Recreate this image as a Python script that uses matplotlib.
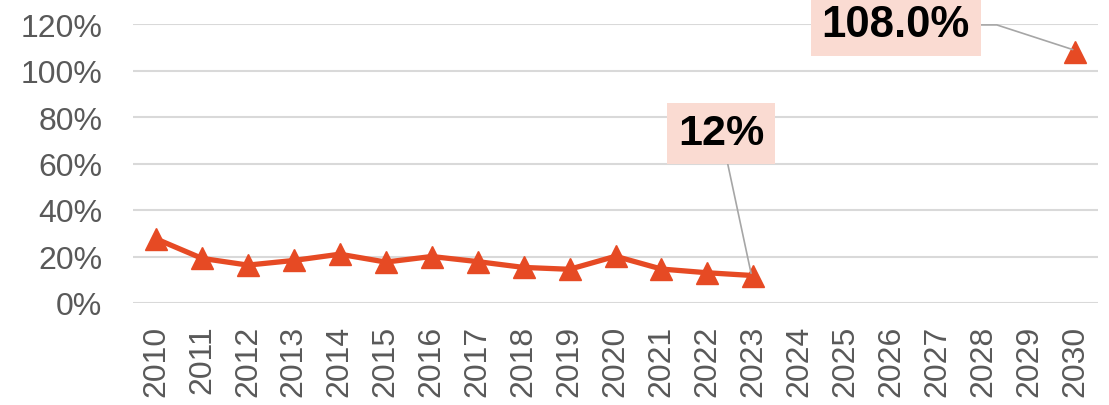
import numpy as np
import matplotlib
matplotlib.use("Agg")
import matplotlib.pyplot as plt

# data
years = [str(y) for y in range(2010, 2031)]
share = [27.6, 19.2, 16.3, 18.3, 21.0, 17.6, 20.0, 17.8, 15.3, 14.5, 20.1, 14.6, 13.0, 11.8,
         np.nan, np.nan, np.nan, np.nan, np.nan, np.nan, 108.0]
y_ticks = [0, 20, 40, 60, 80, 100, 120]
callouts = {"2023": "12%", "2030": "108.0%"}

line_col = "#E64A24"
box_col = "#FADBD2"
grey = "#595959"

plt.rcParams['font.family'] = ['Liberation Sans', 'DejaVu Sans']

fig = plt.figure(figsize=(11.09, 4.06), dpi=100)
ax = fig.add_axes([133 / 1109, 102 / 406, 965 / 1109, 279 / 406])

x = np.arange(len(years))
ax.plot(x, share, color=line_col, lw=3.8, marker='^', ms=16, mec=line_col, mfc=line_col,
        clip_on=False, zorder=3)

ax.set_xlim(-0.5, len(years) - 0.5)
ax.set_ylim(0, 120)
ax.set_yticks(y_ticks)
ax.set_yticklabels([f"{v}%" for v in y_ticks])
ax.set_xticks(x)
ax.set_xticklabels(years, rotation=90)
ax.tick_params(axis='y', length=0, pad=22, labelsize=23, labelcolor=grey)
ax.tick_params(axis='x', length=0, pad=15.5, labelsize=23, labelcolor=grey)
ax.grid(axis='y', color='#D9D9D9', lw=1.5)
ax.set_axisbelow(True)
for s in ax.spines.values():
    s.set_visible(False)

# callout boxes with leader lines
i23 = years.index("2023")
ax.annotate(callouts["2023"], xy=(x[i23] - 0.05, share[i23] + 1), xytext=(x[i23] - 0.7, 73),
            ha='center', va='center', fontsize=31, fontweight='bold', color='black',
            bbox=dict(boxstyle='square,pad=0.25', fc=box_col, ec='none'),
            arrowprops=dict(arrowstyle='-', color='#A6A6A6', lw=1.2, shrinkA=0, shrinkB=0),
            annotation_clip=False, zorder=4)

i30 = years.index("2030")
ax.annotate(callouts["2030"], xy=(x[i30] - 0.05, share[i30] + 1), xytext=(x[i30] - 3.9, 119.6),
            ha='center', va='center', fontsize=31.5, fontweight='bold', color='black',
            bbox=dict(boxstyle='square,pad=0.25', fc=box_col, ec='none'),
            arrowprops=dict(arrowstyle='-', color='#A6A6A6', lw=1.2, shrinkA=0, shrinkB=0,
                            connectionstyle='angle,angleA=0,angleB=162,rad=0'),
            annotation_clip=False, zorder=4)

fig.savefig("out.png", dpi=100)
